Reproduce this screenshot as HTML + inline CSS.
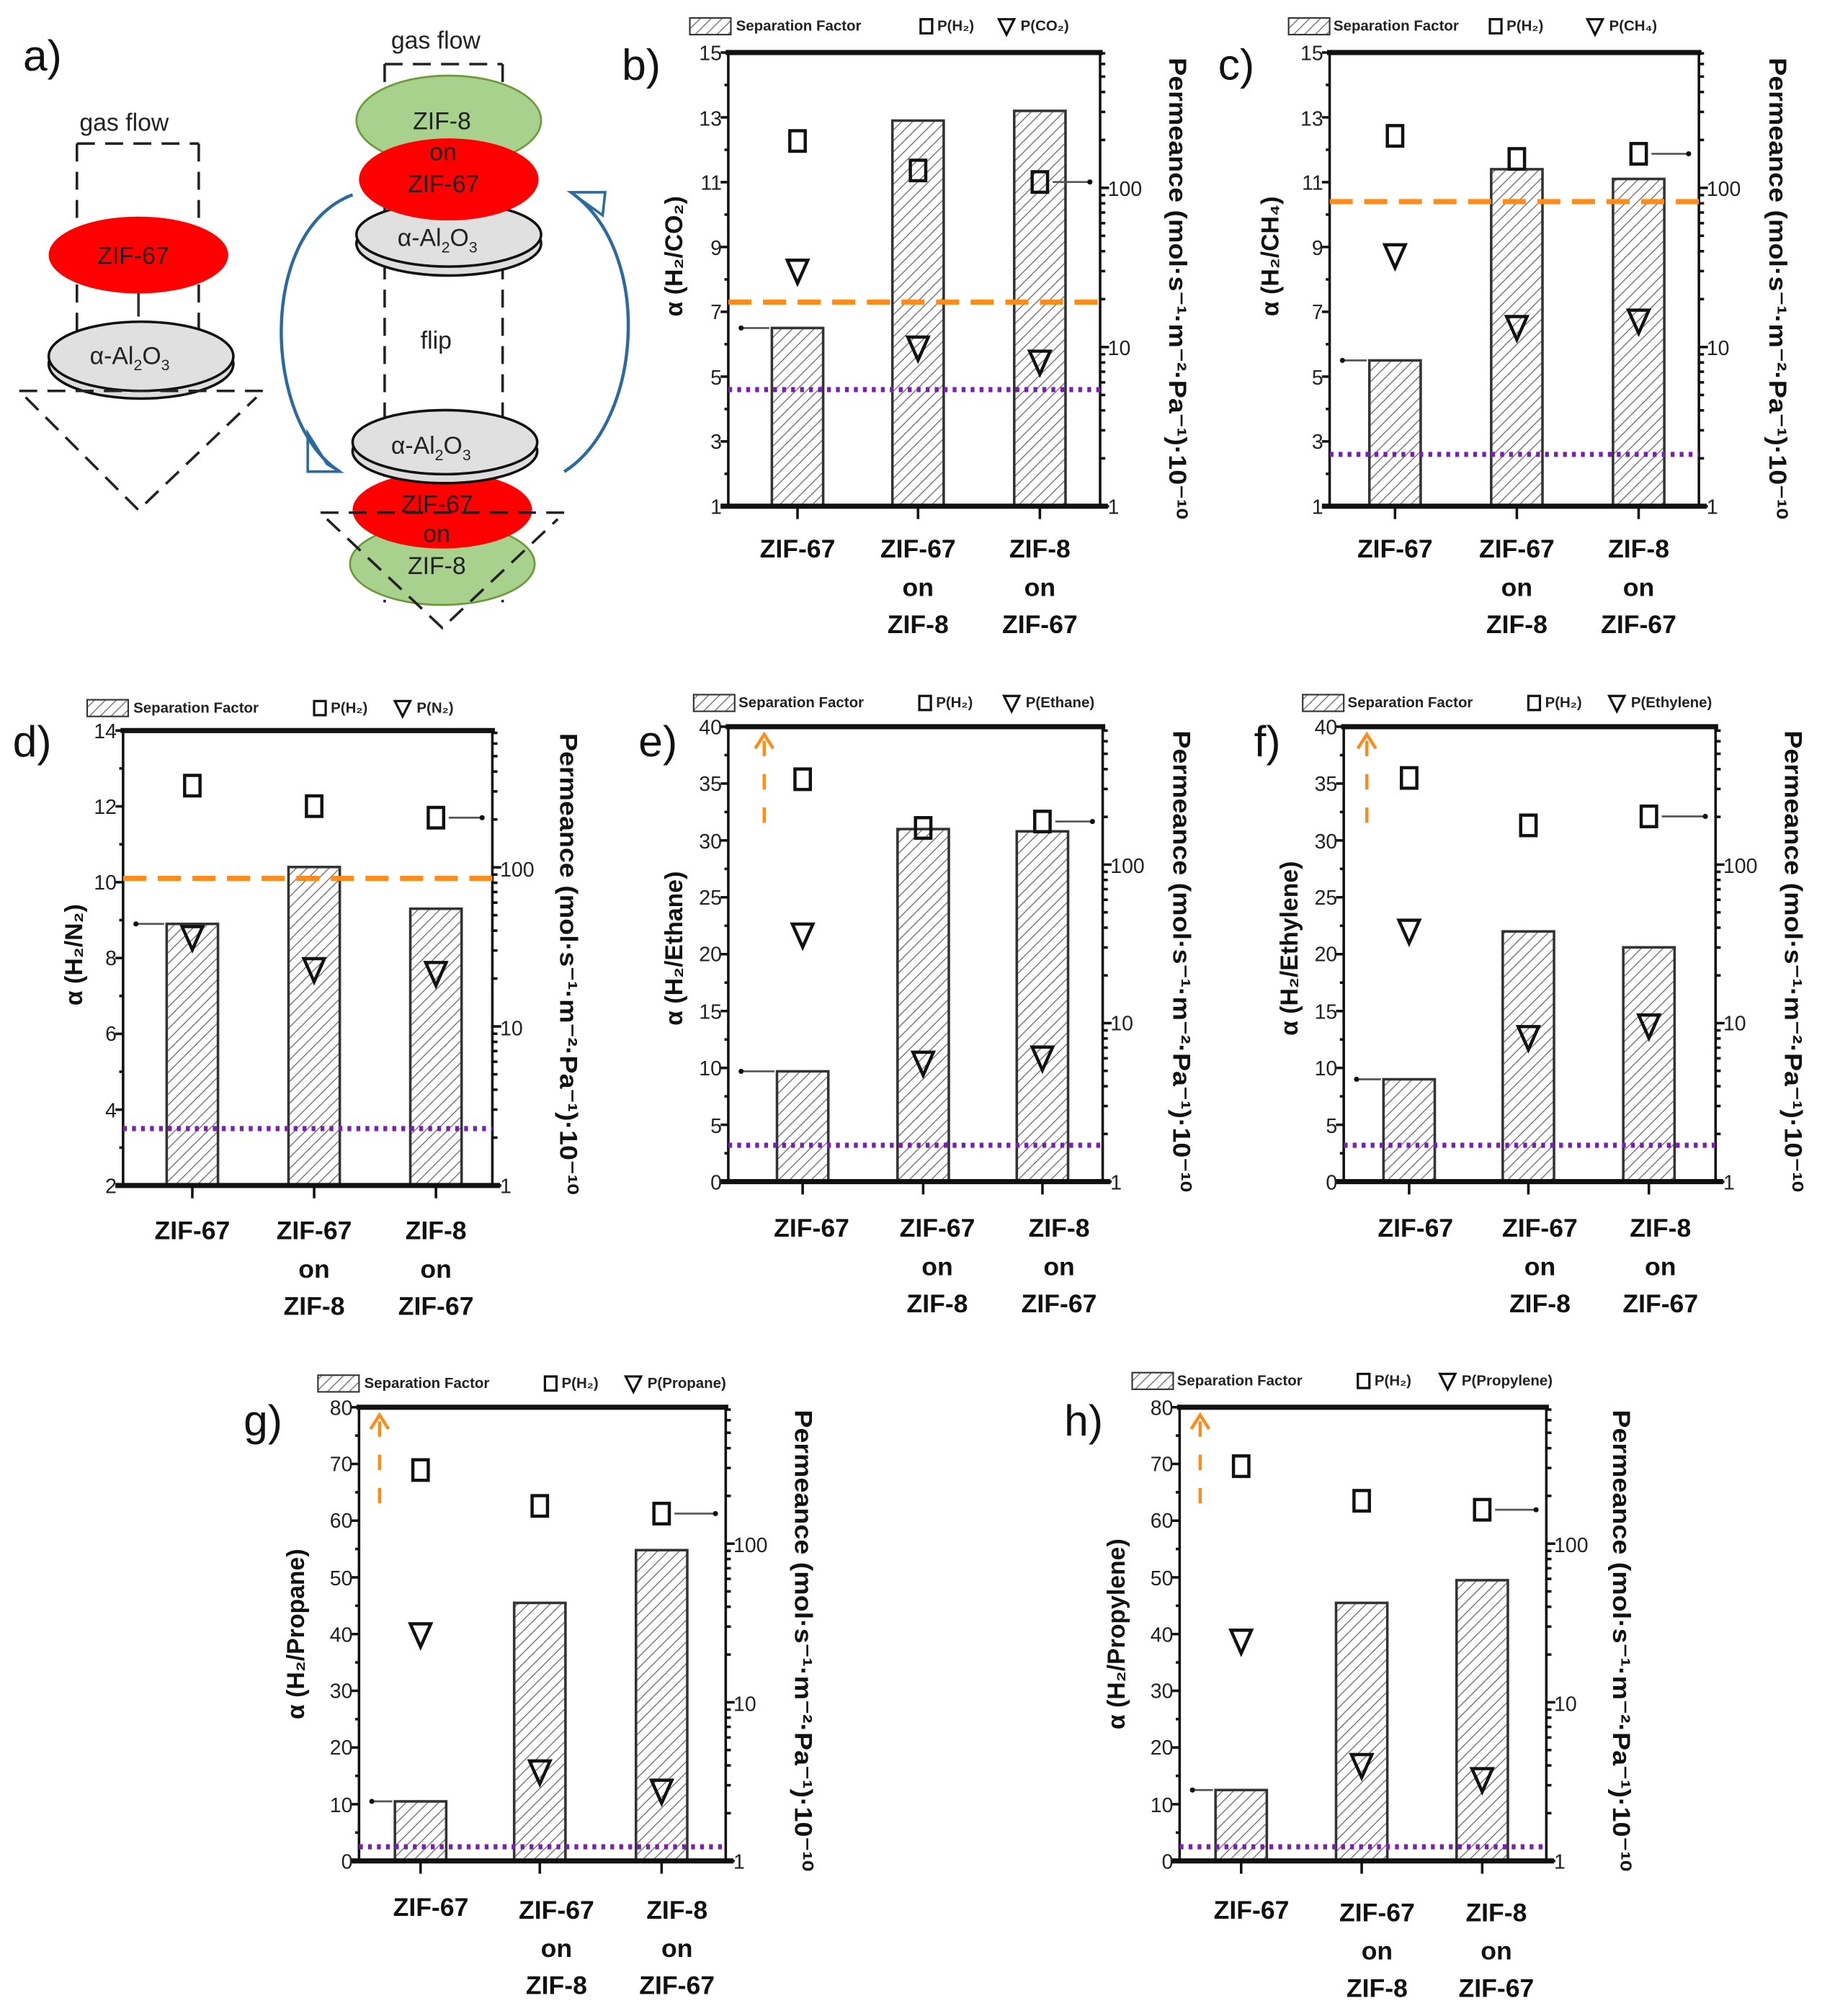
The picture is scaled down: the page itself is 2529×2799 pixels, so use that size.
<!DOCTYPE html>
<html><head><meta charset="utf-8"><style>
html,body{margin:0;padding:0;background:#fff}
svg{display:block}
text{font-family:"Liberation Sans",sans-serif}
.t{font-size:16px;fill:#222}
.xl{font-size:20px;font-weight:bold;fill:#111}
.lab{font-size:34px;fill:#111}
.yt{font-size:19px;font-weight:bold;fill:#111}
.pt{font-size:19px;font-weight:bold;fill:#111}
.lg{font-size:11.5px;font-weight:bold;fill:#222}
.dg{font-size:19px;fill:#222}
</style></head><body>
<svg width="2529" height="2799" viewBox="0 0 1421 1573" preserveAspectRatio="none" xmlns="http://www.w3.org/2000/svg">
<defs>
<pattern id="h" patternUnits="userSpaceOnUse" width="6" height="6" patternTransform="rotate(45)">
<rect width="6" height="6" fill="#fff"/><line x1="0" y1="0" x2="0" y2="6" stroke="#777" stroke-width="1.6"/>
</pattern>
</defs>
<rect width="1421" height="1573" fill="#fff"/>
<g id="shapes"></g>

<!-- panel a diagram -->
<g>
<text class="lab" x="18" y="55">a)</text>
<text class="dg" x="62" y="102">gas flow</text>
<path d="M60 112 H155 M60 112 V300 M155 112 V300" stroke="#222" stroke-width="2" stroke-dasharray="14,8" fill="none"/>
<ellipse cx="110" cy="284" rx="72" ry="27" fill="#ddd" stroke="#111" stroke-width="2"/>
<ellipse cx="110" cy="278" rx="72" ry="27" fill="#e0e0e0" stroke="#111" stroke-width="2"/>
<ellipse cx="108" cy="199" rx="70" ry="30" fill="#f00"/>
<line x1="108" y1="229" x2="108" y2="247" stroke="#333" stroke-width="2"/>
<text class="dg" x="76" y="206">ZIF-67</text>
<text class="dg" x="70" y="284">α-Al<tspan font-size="12" dy="5">2</tspan><tspan dy="-5">O</tspan><tspan font-size="12" dy="5">3</tspan></text>
<path d="M15 305 H205 M20 310 L108 398 L200 310" stroke="#222" stroke-width="2" stroke-dasharray="14,8" fill="none"/>

<text class="dg" x="305" y="38">gas flow</text>
<path d="M300 50 H392 M300 50 V470 M392 50 V470" stroke="#222" stroke-width="2" stroke-dasharray="14,8" fill="none"/>
<path d="M275 152 C200 180 205 330 265 368" stroke="#2a6aa0" stroke-width="2.5" fill="none"/>
<path d="M448 152 C510 200 500 330 440 368" stroke="#2a6aa0" stroke-width="2.5" fill="none"/>
<path d="M240 338 L255 362 L265 368 L240 368 Z" fill="none" stroke="#2a6aa0" stroke-width="2"/>
<path d="M445 150 L472 150 L470 168 Z" fill="none" stroke="#2a6aa0" stroke-width="2"/>
<ellipse cx="350" cy="94" rx="72" ry="35" fill="#a9d18e" stroke="#6a9a3a" stroke-width="1.5"/>
<ellipse cx="350" cy="190" rx="72" ry="25" fill="#ddd" stroke="#111" stroke-width="2"/>
<ellipse cx="350" cy="183" rx="72" ry="25" fill="#e0e0e0" stroke="#111" stroke-width="2"/>
<ellipse cx="350" cy="140" rx="70" ry="32" fill="#f00"/>
<text class="dg" x="322" y="101">ZIF-8</text>
<text class="dg" x="335" y="125">on</text>
<text class="dg" x="318" y="150">ZIF-67</text>
<text class="dg" x="310" y="192">α-Al<tspan font-size="12" dy="5">2</tspan><tspan dy="-5">O</tspan><tspan font-size="12" dy="5">3</tspan></text>
<text class="dg" x="328" y="272">flip</text>
<ellipse cx="345" cy="440" rx="72" ry="32" fill="#a9d18e" stroke="#6a9a3a" stroke-width="1.5"/>
<ellipse cx="345" cy="398" rx="70" ry="30" fill="#f00"/>
<ellipse cx="347" cy="352" rx="72" ry="25" fill="#ddd" stroke="#111" stroke-width="2"/>
<ellipse cx="347" cy="345" rx="72" ry="25" fill="#e0e0e0" stroke="#111" stroke-width="2"/>
<text class="dg" x="305" y="354">α-Al<tspan font-size="12" dy="5">2</tspan><tspan dy="-5">O</tspan><tspan font-size="12" dy="5">3</tspan></text>
<text class="dg" x="313" y="400">ZIF-67</text>
<text class="dg" x="330" y="423">on</text>
<text class="dg" x="318" y="448">ZIF-8</text>
<path d="M250 400 H440 M255 405 L345 490 L435 405" stroke="#222" stroke-width="2" stroke-dasharray="14,8" fill="none"/>
</g>

<!-- panel labels -->
<text class="lab" x="485" y="62">b)</text>
<text class="lab" x="950" y="62">c)</text>
<text class="lab" x="10" y="590">d)</text>
<text class="lab" x="498" y="590">e)</text>
<text class="lab" x="978" y="590">f)</text>
<text class="lab" x="190" y="1120">g)</text>
<text class="lab" x="830" y="1120">h)</text>

<!-- legends -->
<g class="lg">
<text x="574" y="24">Separation Factor</text><text x="731" y="24">P(H₂)</text><text x="796" y="24">P(CO₂)</text>
<text x="1040" y="24">Separation Factor</text><text x="1175" y="24">P(H₂)</text><text x="1255" y="24">P(CH₄)</text>
<text x="104" y="556">Separation Factor</text><text x="258" y="556">P(H₂)</text><text x="325" y="556">P(N₂)</text>
<text x="576" y="552">Separation Factor</text><text x="730" y="552">P(H₂)</text><text x="800" y="552">P(Ethane)</text>
<text x="1051" y="552">Separation Factor</text><text x="1205" y="552">P(H₂)</text><text x="1272" y="552">P(Ethylene)</text>
<text x="284" y="1083">Separation Factor</text><text x="438" y="1083">P(H₂)</text><text x="505" y="1083">P(Propane)</text>
<text x="918" y="1081">Separation Factor</text><text x="1072" y="1081">P(H₂)</text><text x="1140" y="1081">P(Propylene)</text>
</g>

<!-- y titles -->
<text class="yt" transform="translate(532,200) rotate(-90)" text-anchor="middle">α (H₂/CO₂)</text>
<text class="yt" transform="translate(997,200) rotate(-90)" text-anchor="middle">α (H₂/CH₄)</text>
<text class="yt" transform="translate(64,745) rotate(-90)" text-anchor="middle">α (H₂/N₂)</text>
<text class="yt" transform="translate(532,740) rotate(-90)" text-anchor="middle">α (H₂/Ethane)</text>
<text class="yt" transform="translate(1012,740) rotate(-90)" text-anchor="middle">α (H₂/Ethylene)</text>
<text class="yt" transform="translate(237,1275) rotate(-90)" text-anchor="middle">α (H₂/Propane)</text>
<text class="yt" transform="translate(877,1275) rotate(-90)" text-anchor="middle">α (H₂/Propylene)</text>
<g class="pt">
<text transform="translate(912,225) rotate(90)" text-anchor="middle" textLength="360" lengthAdjust="spacingAndGlyphs">Permeance (mol·s⁻¹·m⁻²·Pa⁻¹)·10⁻¹⁰</text>
<text transform="translate(1380,225) rotate(90)" text-anchor="middle" textLength="360" lengthAdjust="spacingAndGlyphs">Permeance (mol·s⁻¹·m⁻²·Pa⁻¹)·10⁻¹⁰</text>
<text transform="translate(437,752) rotate(90)" text-anchor="middle" textLength="360" lengthAdjust="spacingAndGlyphs">Permeance (mol·s⁻¹·m⁻²·Pa⁻¹)·10⁻¹⁰</text>
<text transform="translate(915,750) rotate(90)" text-anchor="middle" textLength="360" lengthAdjust="spacingAndGlyphs">Permeance (mol·s⁻¹·m⁻²·Pa⁻¹)·10⁻¹⁰</text>
<text transform="translate(1392,750) rotate(90)" text-anchor="middle" textLength="360" lengthAdjust="spacingAndGlyphs">Permeance (mol·s⁻¹·m⁻²·Pa⁻¹)·10⁻¹⁰</text>
<text transform="translate(620,1280) rotate(90)" text-anchor="middle" textLength="360" lengthAdjust="spacingAndGlyphs">Permeance (mol·s⁻¹·m⁻²·Pa⁻¹)·10⁻¹⁰</text>
<text transform="translate(1258,1280) rotate(90)" text-anchor="middle" textLength="360" lengthAdjust="spacingAndGlyphs">Permeance (mol·s⁻¹·m⁻²·Pa⁻¹)·10⁻¹⁰</text>
</g>

<!-- x labels -->
<g class="xl" text-anchor="middle">
<text x="622" y="435">ZIF-67</text><text x="716" y="435">ZIF-67</text><text x="716" y="465">on</text><text x="716" y="494">ZIF-8</text><text x="811" y="435">ZIF-8</text><text x="811" y="465">on</text><text x="811" y="494">ZIF-67</text>
<text x="1088" y="435">ZIF-67</text><text x="1183" y="435">ZIF-67</text><text x="1183" y="465">on</text><text x="1183" y="494">ZIF-8</text><text x="1278" y="435">ZIF-8</text><text x="1278" y="465">on</text><text x="1278" y="494">ZIF-67</text>
<text x="150" y="967">ZIF-67</text><text x="245" y="967">ZIF-67</text><text x="245" y="997">on</text><text x="245" y="1026">ZIF-8</text><text x="340" y="967">ZIF-8</text><text x="340" y="997">on</text><text x="340" y="1026">ZIF-67</text>
<text x="633" y="965">ZIF-67</text><text x="731" y="965">ZIF-67</text><text x="731" y="995">on</text><text x="731" y="1024">ZIF-8</text><text x="826" y="965">ZIF-8</text><text x="826" y="995">on</text><text x="826" y="1024">ZIF-67</text>
<text x="1104" y="965">ZIF-67</text><text x="1201" y="965">ZIF-67</text><text x="1201" y="995">on</text><text x="1201" y="1024">ZIF-8</text><text x="1295" y="965">ZIF-8</text><text x="1295" y="995">on</text><text x="1295" y="1024">ZIF-67</text>
<text x="336" y="1495">ZIF-67</text><text x="434" y="1497">ZIF-67</text><text x="434" y="1527">on</text><text x="434" y="1556">ZIF-8</text><text x="528" y="1497">ZIF-8</text><text x="528" y="1527">on</text><text x="528" y="1556">ZIF-67</text>
<text x="976" y="1497">ZIF-67</text><text x="1074" y="1499">ZIF-67</text><text x="1074" y="1529">on</text><text x="1074" y="1558">ZIF-8</text><text x="1167" y="1499">ZIF-8</text><text x="1167" y="1529">on</text><text x="1167" y="1558">ZIF-67</text>
</g>

<!-- tick labels -->
<g class="t" text-anchor="end">
<text x="563" y="47">15</text><text x="563" y="98">13</text><text x="563" y="148">11</text><text x="563" y="199">9</text><text x="563" y="249">7</text><text x="563" y="300">5</text><text x="563" y="350">3</text><text x="563" y="401">1</text>
<text x="1032" y="47">15</text><text x="1032" y="98">13</text><text x="1032" y="148">11</text><text x="1032" y="199">9</text><text x="1032" y="249">7</text><text x="1032" y="300">5</text><text x="1032" y="350">3</text><text x="1032" y="401">1</text>
<text x="91" y="576">14</text><text x="91" y="635">12</text><text x="91" y="694">10</text><text x="91" y="753">8</text><text x="91" y="812">6</text><text x="91" y="872">4</text><text x="91" y="931">2</text>
<text x="563" y="573">40</text><text x="563" y="617">35</text><text x="563" y="662">30</text><text x="563" y="706">25</text><text x="563" y="750">20</text><text x="563" y="795">15</text><text x="563" y="839">10</text><text x="563" y="884">5</text><text x="563" y="928">0</text>
<text x="1043" y="573">40</text><text x="1043" y="617">35</text><text x="1043" y="662">30</text><text x="1043" y="706">25</text><text x="1043" y="750">20</text><text x="1043" y="795">15</text><text x="1043" y="839">10</text><text x="1043" y="884">5</text><text x="1043" y="928">0</text>
<text x="275" y="1104">80</text><text x="275" y="1148">70</text><text x="275" y="1192">60</text><text x="275" y="1237">50</text><text x="275" y="1281">40</text><text x="275" y="1325">30</text><text x="275" y="1369">20</text><text x="275" y="1414">10</text><text x="275" y="1458">0</text>
<text x="915" y="1104">80</text><text x="915" y="1148">70</text><text x="915" y="1192">60</text><text x="915" y="1237">50</text><text x="915" y="1281">40</text><text x="915" y="1325">30</text><text x="915" y="1369">20</text><text x="915" y="1414">10</text><text x="915" y="1458">0</text>
</g>
<g class="t">
<text x="864" y="153">100</text><text x="864" y="277">10</text><text x="864" y="401">1</text>
<text x="1331" y="153">100</text><text x="1331" y="277">10</text><text x="1331" y="401">1</text>
<text x="390" y="684">100</text><text x="390" y="808">10</text><text x="390" y="931">1</text>
<text x="866" y="681">100</text><text x="866" y="804">10</text><text x="866" y="928">1</text>
<text x="1344" y="681">100</text><text x="1344" y="804">10</text><text x="1344" y="928">1</text>
<text x="572" y="1211">100</text><text x="572" y="1335">10</text><text x="572" y="1458">1</text>
<text x="1212" y="1211">100</text><text x="1212" y="1335">10</text><text x="1212" y="1458">1</text>
</g>
</svg>
<script>
var NS="http://www.w3.org/2000/svg",G=document.getElementById("shapes");
function el(t,a){var e=document.createElementNS(NS,t);for(var k in a)e.setAttribute(k,a[k]);G.appendChild(e);return e;}
function ln(x1,y1,x2,y2,s,w,d){var a={x1:x1,y1:y1,x2:x2,y2:y2,stroke:s,"stroke-width":w};if(d)a["stroke-dasharray"]=d;el("line",a);}
function sq(x,y){el("rect",{x:x-6,y:y-8,width:12,height:16,fill:"none",stroke:"#111","stroke-width":2.5});}
function tri(x,y){el("path",{d:"M"+(x-8)+" "+(y-9)+" L"+(x+8)+" "+(y-9)+" L"+x+" "+(y+9)+" Z",fill:"none",stroke:"#111","stroke-width":2.5});}
function panel(c){
 var L=c.L,R=c.R,T=c.T,B=c.B;function Y(v){return B-(v-c.min)/(c.max-c.min)*(B-T);}
 c.bars.forEach(function(b){var y=Y(b[1]);el("rect",{x:b[0]-20,y:y,width:40,height:B-y,fill:"url(#h)",stroke:"#333","stroke-width":2});});
 ln(L,T,L,B,"#111",2);ln(R,T,R,B,"#111",2);ln(L-2,T,R+2,T,"#111",4);ln(L-6,B,R+6,B,"#111",4);
 for(var v=c.min;v<=c.max+1e-9;v+=c.step/2){var y=Y(v);var maj=Math.abs(((v-c.min)/c.step)%1)<1e-6;ln(L-(maj?6:3),y,L,y,"#111",2);}
 var dec=(B-T)/c.decs;
 for(var d=0;d<c.decs;d++)for(var k=1;k<=9;k++){var y=B-d*dec-Math.log10(k)*dec;if(y<T)continue;ln(R,y,R+(k==1?7:4),y,"#111",2);}
 c.bars.forEach(function(b){ln(b[0],B,b[0],B+10,"#111",2);});
 if(c.or!=null)ln(L,Y(c.or),R,Y(c.or),"#ff8c1a",4,"18,9");
 ln(L,Y(c.pu),R,Y(c.pu),"#7a1fb0",4,"3,4");
 c.sq.forEach(function(y,i){sq(c.bars[i][0],y);});
 c.tr.forEach(function(y,i){tri(c.bars[i][0],y);});
 var y0=Y(c.bars[0][1]);ln(L+10,y0,c.bars[0][0]-22,y0,"#555",1.5);el("circle",{cx:L+10,cy:y0,r:2,fill:"#111"});
 var xs=c.bars[2][0]+10,ys=c.sq[2];ln(xs,ys,R-8,ys,"#555",1.5);el("circle",{cx:R-8,cy:ys,r:2,fill:"#111"});
 if(c.ax){ln(c.ax,T+75,c.ax,T+10,"#ff8c1a",2.5,"12,14");el("path",{d:"M"+(c.ax-7)+" "+(T+17)+" L"+c.ax+" "+(T+6)+" L"+(c.ax+7)+" "+(T+17),fill:"none",stroke:"#ff8c1a","stroke-width":2.5});}
 var lx=c.lx,ly=c.ly;el("rect",{x:lx,y:ly-10,width:32,height:13,fill:"url(#h)",stroke:"#333","stroke-width":1.2});
 el("rect",{x:c.l2-13,y:ly-9,width:9,height:11,fill:"none",stroke:"#111","stroke-width":1.8});
 el("path",{d:"M"+(c.l3-17)+" "+(ly-9)+" L"+(c.l3-5)+" "+(ly-9)+" L"+(c.l3-11)+" "+(ly+3)+" Z",fill:"none",stroke:"#111","stroke-width":1.8});
}
panel({L:568,R:858,T:41,B:395,min:1,max:15,step:2,decs:2.85,bars:[[622,6.5],[716,12.9],[811,13.2]],or:7.3,pu:4.6,sq:[110,133,142],tr:[212,272,283],lx:538,ly:24,l2:731,l3:796});
panel({L:1037,R:1325,T:41,B:395,min:1,max:15,step:2,decs:2.85,bars:[[1088,5.5],[1183,11.4],[1278,11.1]],or:10.4,pu:2.6,sq:[106,124,120],tr:[200,256,251],lx:1005,ly:24,l2:1175,l3:1255});
panel({L:96,R:384,T:570,B:925,min:2,max:14,step:2,decs:2.86,bars:[[150,8.9],[245,10.4],[340,9.3]],or:10.1,pu:3.5,sq:[613,629,638],tr:[732,757,760],lx:68,ly:556,l2:258,l3:325});
panel({L:568,R:860,T:567,B:922,min:0,max:40,step:5,decs:2.87,bars:[[626,9.7],[720,31],[813,30.8]],or:null,pu:3.2,sq:[608,646,641],tr:[730,830,826],ax:596,lx:541,ly:552,l2:730,l3:800});
panel({L:1048,R:1338,T:567,B:922,min:0,max:40,step:5,decs:2.87,bars:[[1099,9],[1192,22],[1286,20.6]],or:null,pu:3.2,sq:[607,644,637],tr:[727,810,801],ax:1066,lx:1016,ly:552,l2:1205,l3:1272});
panel({L:280,R:566,T:1098,B:1452,min:0,max:80,step:10,decs:2.86,bars:[[328,10.5],[421,45.5],[516,54.8]],or:null,pu:2.5,sq:[1147,1175,1181],tr:[1276,1383,1398],ax:296,lx:248,ly:1083,l2:438,l3:505});
panel({L:920,R:1206,T:1098,B:1452,min:0,max:80,step:10,decs:2.86,bars:[[968,12.5],[1062,45.5],[1156,49.5]],or:null,pu:2.5,sq:[1144,1171,1178],tr:[1281,1378,1389],ax:936,lx:883,ly:1081,l2:1072,l3:1140});
</script>
</body></html>
